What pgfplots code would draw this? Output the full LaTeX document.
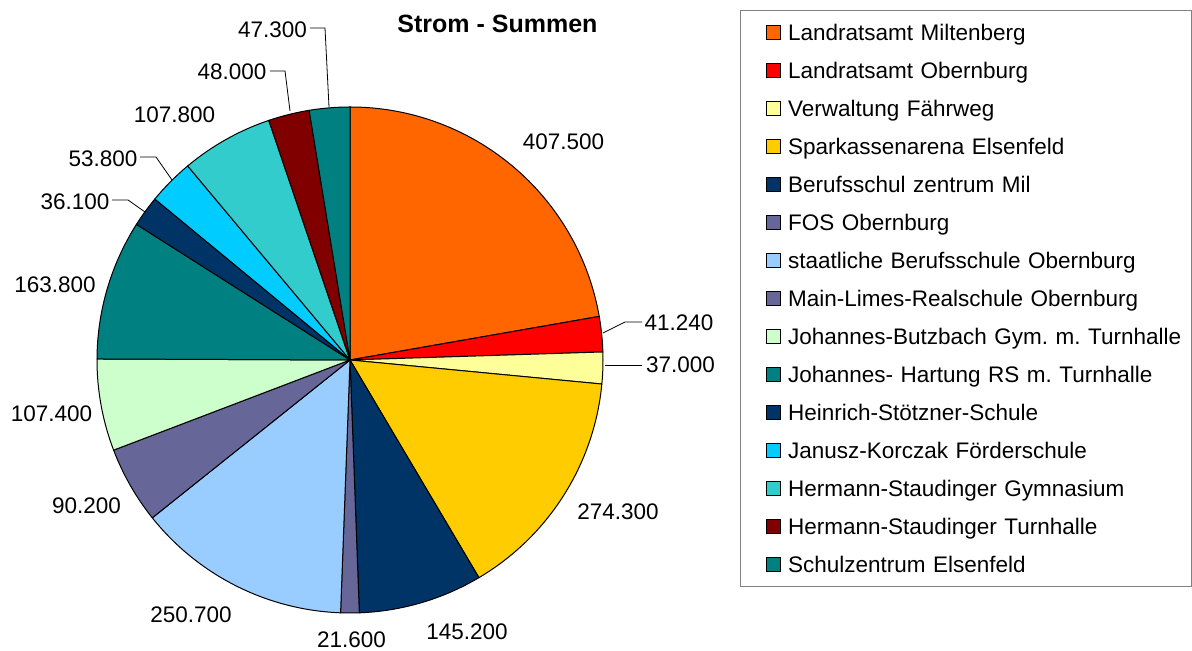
\documentclass[border=0pt]{standalone}
\usepackage{pgfplots}
\pgfplotsset{compat=1.18}
\usepackage{pgfplotstable}
\usepackage{fontspec}
\setmainfont{Liberation Sans}

\newcommand\lbl{\fontsize{11.25}{13.5}\selectfont\frenchspacing}
% pixel position of the original picture -> axis coordinates (centre 350/360, radius 253 px)
\newcommand\pxpt[2]{(axis cs:{(#1-350)/253},{(360-#2)/253})}

% Excel palette, one colour per slice
\definecolor{pie0}{HTML}{FF6600}
\definecolor{pie1}{HTML}{FF0000}
\definecolor{pie2}{HTML}{FFFF99}
\definecolor{pie3}{HTML}{FFCC00}
\definecolor{pie4}{HTML}{003366}
\definecolor{pie5}{HTML}{666699}
\definecolor{pie6}{HTML}{99CCFF}
\definecolor{pie7}{HTML}{666699}
\definecolor{pie8}{HTML}{CCFFCC}
\definecolor{pie9}{HTML}{008080}
\definecolor{pie10}{HTML}{003366}
\definecolor{pie11}{HTML}{00CCFF}
\definecolor{pie12}{HTML}{33CCCC}
\definecolor{pie13}{HTML}{800000}
\definecolor{pie14}{HTML}{008080}

% value in thousands; lx/ly = label centre in pixels
\pgfplotstableread[col sep=comma]{
name,value,lx,ly
Landratsamt Miltenberg,407.5,563.5,141.5
Landratsamt Obernburg,41.24,679,323
Verwaltung Fährweg,37.0,680.5,365
Sparkassenarena Elsenfeld,274.3,618,511.5
Berufsschul zentrum Mil,145.2,467,631.5
FOS Obernburg,21.6,351.5,640
staatliche Berufsschule Obernburg,250.7,191,615
Main-Limes-Realschule Obernburg,90.2,86.5,505.5
Johannes-Butzbach Gym. m. Turnhalle,107.4,51.5,414
Johannes- Hartung RS m. Turnhalle,163.8,55,285
Heinrich-Stötzner-Schule,36.1,75,201.5
Janusz-Korczak Förderschule,53.8,103,158.5
Hermann-Staudinger Gymnasium,107.8,174.5,115
Hermann-Staudinger Turnhalle,48.0,232,71.5
Schulzentrum Elsenfeld,47.3,272.5,29.5
}\piedata

\begin{document}
\begin{tikzpicture}
% cumulative angles, clockwise from the top
\pgfplotstablegetrowsof{\piedata}
\pgfmathtruncatemacro\nlast{\pgfplotsretval-1}
\gdef\total{0}
\foreach \i in {0,...,\nlast}{%
  \pgfplotstablegetelem{\i}{value}\of\piedata
  \pgfmathsetmacro\tmp{\total+\pgfplotsretval}%
  \xdef\total{\tmp}%
}
\gdef\cum{0}
\foreach \i in {0,...,\nlast}{%
  \pgfplotstablegetelem{\i}{value}\of\piedata
  \expandafter\xdef\csname v\i\endcsname{\pgfplotsretval}%
  \pgfmathsetmacro\tmpa{90-(\cum/\total)*360}%
  \pgfmathsetmacro\tmpc{\cum+\pgfplotsretval}%
  \pgfmathsetmacro\tmpb{90-(\tmpc/\total)*360}%
  \expandafter\xdef\csname sa\i\endcsname{\tmpa}%
  \expandafter\xdef\csname ea\i\endcsname{\tmpb}%
  \xdef\cum{\tmpc}%
  \pgfplotstablegetelem{\i}{name}\of\piedata
  \expandafter\xdef\csname nm\i\endcsname{\pgfplotsretval}%
  \pgfplotstablegetelem{\i}{lx}\of\piedata
  \pgfmathsetmacro\tmpa{(\pgfplotsretval-350)/253}%
  \expandafter\xdef\csname lx\i\endcsname{\tmpa}%
  \pgfplotstablegetelem{\i}{ly}\of\piedata
  \pgfmathsetmacro\tmpa{(360-\pgfplotsretval)/253}%
  \expandafter\xdef\csname ly\i\endcsname{\tmpa}%
}
\begin{axis}[
  hide axis, clip=false,
  x=126.5pt, y=126.5pt,
  xmin=-1.38340, xmax=3.32806,
  ymin=-1.15020, ymax=1.42292,
  title={Strom - Summen},
  every axis title shift=0pt,
  title style={at={(axis cs:0.58300,1.32806)}, anchor=center, yshift=0pt,
    font=\bfseries\fontsize{12.5}{15}\selectfont, inner sep=0pt},
  legend cell align=left,
  legend style={at={(axis cs:1.54150,1.38340)}, anchor=north west,
    draw=black!50, line width=0.6pt, font=\lbl,
    inner xsep=0pt, inner ysep=1.5pt, column sep=3.5pt, row sep=0pt,
    nodes={inner sep=0pt, text width=201.5pt, align=left,
      minimum height=19pt, text height=8pt, text depth=0pt}},
  legend image code/.code={%
    \path[draw=none, fill=none] (-13pt,-3.5pt) rectangle (0pt,3.5pt);
    \draw[#1, line width=0.5pt] (0pt,-3.5pt) rectangle (7pt,3.5pt);},
]
\path (rel axis cs:0,0) rectangle (rel axis cs:1,1);

\pgfplotsinvokeforeach{0,...,14}{
  \filldraw[fill=pie#1, draw=black, line width=0.5pt, line join=round]
    (axis cs:0,0) -- ++(\csname sa#1\endcsname:126.5pt)
    arc[start angle=\csname sa#1\endcsname, end angle=\csname ea#1\endcsname, radius=126.5pt]
    -- cycle;
  \node[font=\lbl, inner sep=0pt] at (axis cs:\csname lx#1\endcsname,\csname ly#1\endcsname)
    {\pgfmathprintnumber[fixed,fixed zerofill,precision=3,assume math mode=true]{\csname v#1\endcsname}};
  \addlegendimage{fill=pie#1, draw=black}
  \addlegendentryexpanded{\csname nm#1\endcsname}
}

% leader lines
\draw[line width=0.4pt] \pxpt{603}{333} -- \pxpt{625}{322} -- \pxpt{642}{322};
\draw[line width=0.4pt] \pxpt{605}{365} -- \pxpt{642}{365};
\draw[line width=0.4pt] \pxpt{112}{200} -- \pxpt{128}{200} -- \pxpt{145}{212};
\draw[line width=0.4pt] \pxpt{140}{157} -- \pxpt{156}{157} -- \pxpt{172}{180};
\draw[line width=0.4pt] \pxpt{270}{71} -- \pxpt{285}{71} -- \pxpt{290}{111};
\draw[line width=0.4pt] \pxpt{310}{28} -- \pxpt{325}{28} -- \pxpt{329}{107};
\end{axis}
\end{tikzpicture}
\end{document}
